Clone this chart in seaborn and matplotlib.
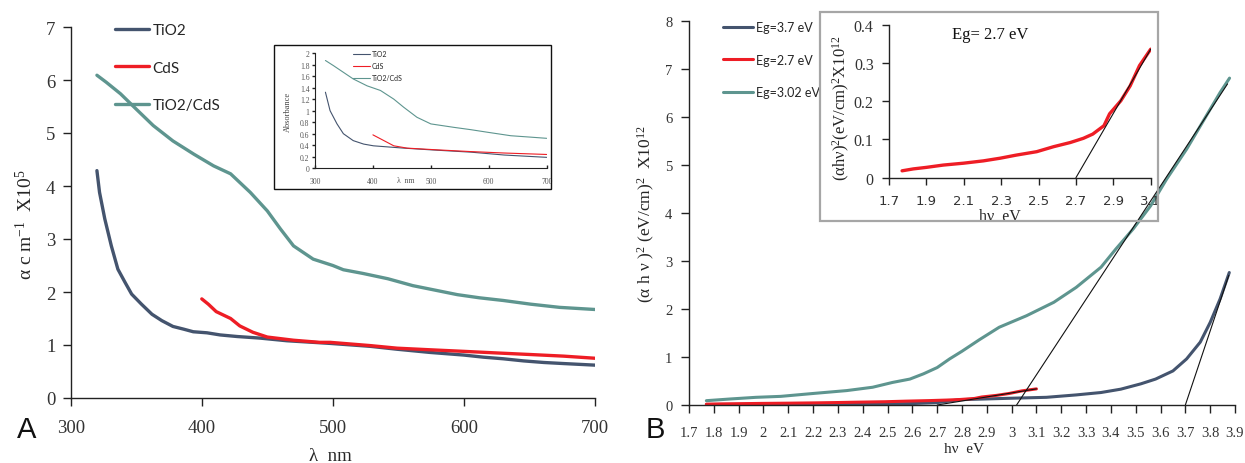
import matplotlib
matplotlib.use("Agg")
import matplotlib.pyplot as plt
from matplotlib.patches import Rectangle
import seaborn as sns

# ---------------- data ----------------
# Panel A: absorption coefficient (x10^5 cm^-1) vs wavelength (nm)
tio2_lam = [320, 322, 326, 331, 336, 341.5, 346.5, 354, 362, 369.5, 378, 386, 393.5, 404, 414,
            427, 444.5, 465, 485, 498, 528.5, 549, 574, 600, 615, 630, 645.5, 661, 676, 700]
tio2_alpha = [4.29, 3.88, 3.38, 2.87, 2.43, 2.18, 1.96, 1.77, 1.58, 1.46, 1.35, 1.30, 1.25, 1.23, 1.19,
              1.16, 1.13, 1.08, 1.05, 1.03, 0.975, 0.92, 0.86, 0.81, 0.77, 0.74, 0.70, 0.67, 0.65, 0.62]

cds_lam = [400, 405, 411, 422, 429, 439, 450, 470, 490, 498, 528, 549, 574, 600, 625, 651, 676, 700]
cds_alpha = [1.87, 1.77, 1.63, 1.50, 1.36, 1.24, 1.15, 1.09, 1.05, 1.05, 0.99, 0.94, 0.91, 0.88,
             0.85, 0.82, 0.79, 0.75]

comp_lam = [320, 327, 338, 350, 363, 378, 394, 409, 422, 437, 450, 460, 470, 485, 500, 508, 523,
            542, 561, 579, 595, 612, 630, 651, 673, 700]
comp_alpha = [6.09, 5.96, 5.74, 5.45, 5.14, 4.85, 4.60, 4.38, 4.23, 3.88, 3.53, 3.19, 2.87, 2.62,
              2.50, 2.42, 2.35, 2.25, 2.12, 2.03, 1.95, 1.89, 1.84, 1.77, 1.71, 1.67]

# Panel A inset: absorbance vs wavelength
ins_tio2_lam = [318, 326, 338, 349, 366, 384, 401, 453, 500, 569, 627, 700]
ins_tio2_abs = [1.32, 1.00, 0.77, 0.60, 0.48, 0.42, 0.39, 0.35, 0.32, 0.28, 0.23, 0.19]
ins_cds_lam = [400, 419, 436, 459, 511, 569, 627, 700]
ins_cds_abs = [0.58, 0.48, 0.39, 0.35, 0.32, 0.29, 0.265, 0.24]
ins_comp_lam = [318, 332, 349, 366, 390, 413, 436, 453, 476, 500, 540, 569, 598, 638, 673, 700]
ins_comp_abs = [1.87, 1.78, 1.665, 1.55, 1.43, 1.35, 1.20, 1.06, 0.885, 0.77, 0.71, 0.67, 0.625,
                0.565, 0.54, 0.52]

# Panel B: Tauc plot (alpha h nu)^2 x10^12 vs photon energy (eV)
comp_hv = [1.77, 1.865, 1.97, 2.07, 2.20, 2.335, 2.44, 2.52, 2.59, 2.645, 2.70, 2.75, 2.80, 2.87,
           2.95, 3.06, 3.17, 3.26, 3.36, 3.42, 3.49, 3.56, 3.625, 3.705, 3.785, 3.84, 3.878]
comp_tauc = [0.09, 0.125, 0.16, 0.18, 0.24, 0.30, 0.37, 0.47, 0.54, 0.65, 0.78, 0.96, 1.12, 1.36,
             1.62, 1.86, 2.14, 2.45, 2.87, 3.25, 3.67, 4.15, 4.71, 5.33, 6.03, 6.51, 6.81]

tio2_hv = [1.77, 2.0, 2.3, 2.6, 2.7, 2.79, 2.99, 3.14, 3.26, 3.36, 3.44, 3.52, 3.58, 3.65, 3.705,
           3.76, 3.80, 3.84, 3.877]
tio2_tauc = [0.01, 0.015, 0.02, 0.03, 0.05, 0.11, 0.14, 0.16, 0.21, 0.26, 0.33, 0.44, 0.54, 0.71,
             0.96, 1.31, 1.72, 2.21, 2.76]

cds_hv = [1.77, 1.83, 1.90, 1.99, 2.10, 2.205, 2.295, 2.38, 2.49, 2.58, 2.67, 2.74, 2.79, 2.85,
          2.88, 2.94, 2.99, 3.04, 3.10]
cds_tauc = [0.018, 0.023, 0.027, 0.033, 0.038, 0.044, 0.051, 0.059, 0.068, 0.081, 0.092, 0.103,
            0.114, 0.136, 0.167, 0.201, 0.24, 0.293, 0.336]

# Linear extrapolations to the energy axis (band gaps)
fit_comp_x, fit_comp_y = [3.02, 3.87], [0.0, 6.69]
fit_tio2_x, fit_tio2_y = [3.70, 3.875], [0.0, 2.70]
fit_cds_x, fit_cds_y = [2.70, 3.10], [0.0, 0.336]

labels_a = ["TiO2", "CdS", "TiO2/CdS"]
labels_b = ["Eg=3.7 eV", "Eg=2.7 eV", "Eg=3.02 eV"]
lam_ticks = [300, 400, 500, 600, 700]
hv_ticks = [1.7 + 0.1 * i for i in range(23)]
hv_ticklabels = ["1.7", "1.8", "1.9", "2", "2.1", "2.2", "2.3", "2.4", "2.5", "2.6", "2.7", "2.8",
                 "2.9", "3", "3.1", "3.2", "3.3", "3.4", "3.5", "3.6", "3.7", "3.8", "3.9"]
ins_hv_ticks = [1.7, 1.9, 2.1, 2.3, 2.5, 2.7, 2.9, 3.1]
ins_hv_ticklabels = ["1.7", "1.9", "2.1", "2.3", "2.5", "2.7", "2.9", "3.1"]
ins_abs_ticks = [0.2 * i for i in range(11)]
ins_abs_ticklabels = ["0", "0.2", "0.4", "0.6", "0.8", "1", "1.2", "1.4", "1.6", "1.8", "2"]

NAVY = "#44546e"
RED = "#ee1d25"
TEAL = "#5e958f"
TICKC = "#333333"

# ---------------- style ----------------
sns.set_style("ticks")
plt.rcParams["font.family"] = ["Liberation Serif", "DejaVu Sans"]
plt.rcParams["mathtext.fontset"] = "custom"
plt.rcParams["mathtext.rm"] = "Liberation Serif"
plt.rcParams["mathtext.default"] = "regular"
plt.rcParams["axes.edgecolor"] = "#222222"
plt.rcParams["axes.linewidth"] = 1.0

W, H = 1245, 464
fig = plt.figure(figsize=(W / 100, H / 100), dpi=100)


def px_axes(x0, y0, x1, y1):
    """Axes from pixel box (left, top, right, bottom)."""
    return fig.add_axes([x0 / W, 1 - y1 / H, (x1 - x0) / W, (y1 - y0) / H])


def style_axes(ax, size, color=TICKC, length=5, direction="out"):
    sns.despine(ax=ax)
    ax.set_facecolor("none")
    ax.tick_params(axis="both", labelsize=size, colors="#222222", labelcolor=color,
                   length=length, width=1.0, direction=direction)


# ---------------- panel A ----------------
axA = px_axes(70.7, 28, 595, 399)
sns.lineplot(x=tio2_lam, y=tio2_alpha, ax=axA, color=NAVY, lw=2.4, label=labels_a[0])
sns.lineplot(x=cds_lam, y=cds_alpha, ax=axA, color=RED, lw=2.4, label=labels_a[1])
sns.lineplot(x=comp_lam, y=comp_alpha, ax=axA, color=TEAL, lw=2.4, label=labels_a[2])
axA.set_xlim(300, 700)
axA.set_ylim(0, 7)
axA.set_xticks(lam_ticks)
axA.set_yticks(range(8))
style_axes(axA, 13.5, length=6)
axA.tick_params(axis="x", pad=9)
axA.tick_params(axis="y", pad=5)
axA.set_xlabel("λ  nm", fontsize=13.5, va="center")
axA.xaxis.set_label_coords(0.495, -0.155)
axA.set_ylabel("α c m$^{-1}$  X10$^{5}$", fontsize=14, va="center")
axA.yaxis.set_label_coords(-0.087, 0.47)
axA.legend(loc="upper left", bbox_to_anchor=(115 / W, 1 - 24 / H), bbox_transform=fig.transFigure,
           frameon=False, borderpad=0, borderaxespad=0, handlelength=2.2, handletextpad=0.25,
           labelspacing=1.55, prop={"family": "Lato", "size": 11})

# inset A
insA = px_axes(315, 54, 546.7, 169.3)
sns.lineplot(x=ins_tio2_lam, y=ins_tio2_abs, ax=insA, color=NAVY, lw=0.8, label=labels_a[0])
sns.lineplot(x=ins_cds_lam, y=ins_cds_abs, ax=insA, color=RED, lw=0.8, label=labels_a[1])
sns.lineplot(x=ins_comp_lam, y=ins_comp_abs, ax=insA, color=TEAL, lw=0.8, label=labels_a[2])
insA.set_xlim(300, 700)
insA.set_ylim(0, 2)
insA.set_xticks(lam_ticks)
insA.set_yticks(ins_abs_ticks)
insA.set_yticklabels(ins_abs_ticklabels)
style_axes(insA, 5.5, color="#555555", length=2)
for sp in insA.spines.values():
    sp.set_linewidth(0.8)
insA.tick_params(axis="x", direction="in", pad=6)
insA.tick_params(axis="y", pad=2)
insA.set_xlabel("λ  nm", fontsize=5.5, color="#555555", va="center")
insA.xaxis.set_label_coords(0.39, -0.105)
insA.set_ylabel("Absorbance", fontsize=6, color="#444444", va="center")
insA.yaxis.set_label_coords(-0.115, 0.5)
insA.legend(loc="upper left", bbox_to_anchor=(353 / W, 1 - 51 / H), bbox_transform=fig.transFigure,
            frameon=False, borderpad=0, borderaxespad=0, handlelength=2.4, handletextpad=0.3,
            labelspacing=0.75, prop={"family": "Lato", "size": 5})
fig.patches.append(Rectangle((274 / W, 1 - 190 / H), (550.7 - 274) / W, (190 - 45.7) / H,
                             transform=fig.transFigure, fill=False, ec="#111111", lw=1.0))

# ---------------- panel B ----------------
axB = px_axes(689, 22, 1235, 406)
sns.lineplot(x=tio2_hv, y=tio2_tauc, ax=axB, color=NAVY, lw=2.2, label=labels_b[0])
sns.lineplot(x=cds_hv, y=cds_tauc, ax=axB, color=RED, lw=2.2, label=labels_b[1])
sns.lineplot(x=comp_hv, y=comp_tauc, ax=axB, color=TEAL, lw=2.2, label=labels_b[2])
for fx, fy in [(fit_comp_x, fit_comp_y), (fit_tio2_x, fit_tio2_y), (fit_cds_x, fit_cds_y)]:
    sns.lineplot(x=fx, y=fy, ax=axB, color="#111111", lw=0.8)
axB.set_xlim(1.7, 3.9)
axB.set_ylim(0, 8)
axB.set_xticks(hv_ticks)
axB.set_xticklabels(hv_ticklabels)
axB.set_yticks(range(9))
style_axes(axB, 10.5, length=6)
axB.tick_params(axis="x", pad=9)
axB.tick_params(axis="y", pad=6)
axB.set_xlabel("hν  eV", fontsize=11, va="center")
axB.xaxis.set_label_coords(0.504, -0.112)
axB.set_ylabel("(α h ν )$^{2}$ (eV/cm)$^{2}$  X10$^{12}$", fontsize=12.5, va="center")
axB.yaxis.set_label_coords(-0.078, 0.5)
axB.legend(loc="upper left", bbox_to_anchor=(723 / W, 1 - 22 / H), bbox_transform=fig.transFigure,
           frameon=False, borderpad=0, borderaxespad=0, handlelength=2.4, handletextpad=0.25,
           labelspacing=1.65, prop={"family": "Lato", "size": 9})

# inset B
insB = px_axes(889, 25.7, 1150.7, 178.7)
sns.lineplot(x=cds_hv, y=cds_tauc, ax=insB, color=RED, lw=2.4)
sns.lineplot(x=fit_cds_x, y=fit_cds_y, ax=insB, color="#111111", lw=0.8)
insB.set_xlim(1.7, 3.1)
insB.set_ylim(0, 0.4)
insB.set_xticks(ins_hv_ticks)
insB.set_xticklabels(ins_hv_ticklabels, family="DejaVu Sans")
insB.set_yticks([0, 0.1, 0.2, 0.3, 0.4])
insB.set_yticklabels(["0", "0.1", "0.2", "0.3", "0.4"])
style_axes(insB, 11.5, length=5)
insB.tick_params(axis="x", labelsize=9.5, pad=7)
insB.tick_params(axis="y", pad=6)
insB.set_xlabel("hν  eV", fontsize=11.5, va="center")
insB.xaxis.set_label_coords(0.424, -0.25)
insB.set_ylabel("(αhν)$^{2}$(eV/cm)$^{2}$X10$^{12}$", fontsize=12, va="center")
insB.yaxis.set_label_coords(-0.18, 0.46)
insB.text(2.24, 0.376, "Eg= 2.7 eV", fontsize=12, ha="center", va="center", color="#111111")
fig.patches.append(Rectangle((820 / W, 1 - 221.7 / H), (1157.7 - 820) / W, (221.7 - 12.7) / H,
                             transform=fig.transFigure, fill=False, ec="#a6a6a6", lw=1.6))

# panel letters
fig.text(17 / W, 1 - 438 / H, "A", fontsize=21, family="Liberation Sans", color="#111111")
fig.text(646 / W, 1 - 438 / H, "B", fontsize=21, family="Liberation Sans", color="#111111")

fig.savefig("out.png", dpi=100)
